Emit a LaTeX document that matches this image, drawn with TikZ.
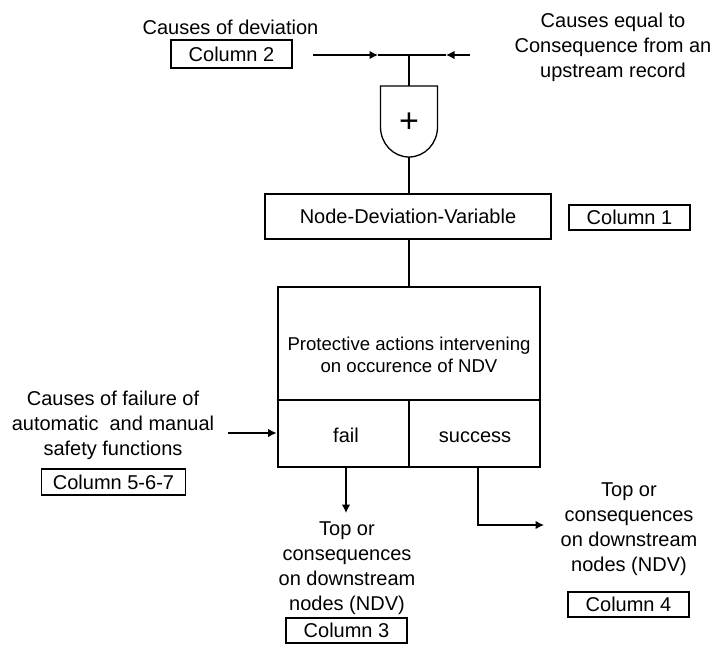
\documentclass[tikz,border=0pt]{standalone}
\usepackage{fontspec}
\setmainfont{Liberation Sans}
\usetikzlibrary{arrows.meta}

\begin{document}
\begin{tikzpicture}[
    x=1pt, y=-1pt,
    font=\fontsize{20}{25}\selectfont,
    every node/.style={inner sep=0pt, align=center},
    link/.style={line width=1.3pt},
    arr/.style={link, -{Latex[length=8.5pt, width=8.5pt]}},
    colbox/.style={draw, link, minimum width=121pt, minimum height=26pt},
    ]
    \useasboundingbox (0,0) rectangle (712,646);

    % inputs of the OR gate
    \node (dev) at (230.5,27) {Causes of deviation};
    \node[colbox, minimum height=28pt] (col2) at (231.5,54) {Column 2};
    \node (up) at (613,47.5) {Causes equal to\\Consequence from an\\upstream record};
    \coordinate (join) at (409,55);
    \coordinate (devin) at (313,55);
    \coordinate (devtip) at (378,55);
    \coordinate (upin) at (470,55);
    \coordinate (uptip) at (446,55);
    \draw[arr] (devin) -- (devtip);
    \draw[link] (devtip) -- (join);
    \draw[arr] (upin) -- (uptip);
    \draw[link] (uptip) -- (join);

    % OR gate
    \draw[link] (380.5,86) -- (380.5,127)
        arc[start angle=180, end angle=0, x radius=28.5, y radius=30]
        -- (437.5,86) -- cycle;
    \node[font=\fontsize{34}{34}\selectfont] (gate) at (409,123) {+};
    \coordinate (gatetop) at (409,86);
    \coordinate (gatebot) at (409,157);
    \draw[link] (join) -- (gatetop);

    \node[draw, link, minimum width=286pt, minimum height=45pt] (ndv) at (408,216.5) {Node-Deviation-Variable};
    \node[colbox, minimum height=25pt] (col1) at (629.5,217.5) {Column 1};
    \draw[link] (gatebot) -- (gatebot |- ndv.north);

    % protective actions
    \node[draw, line width=2.8pt, minimum width=262pt, minimum height=180pt] (pa) at (409,377) {};
    \draw[link] (ndv.south -| gatebot) -- (gatebot |- pa.north);
    \node[font=\fontsize{18.6}{22}\selectfont] (prot) at (409,354.5) {Protective actions intervening\\on occurence of NDV};
    \coordinate (split) at (409,400);
    \draw[link] (split -| pa.west) -- (split -| pa.east);
    \draw[link] (split) -- (split |- pa.south);
    \node[anchor=base] (fail) at (346,442) {fail};
    \node[anchor=base] (succ) at (475,442) {success};

    \node (saf) at (113,425) {Causes of failure of\\automatic~ and manual\\safety functions};
    \node[colbox, minimum width=144pt] (col567) at (113.5,482) {Column 5-6-7};
    \coordinate (safin) at (228,433);
    \draw[arr] (safin) -- (safin -| pa.west);

    % outcomes
    \node (top3) at (347,568) {Top or\\consequences\\on downstream\\nodes (NDV)};
    \node[colbox, minimum height=25pt] (col3) at (346.5,630.5) {Column 3};
    \coordinate (failtip) at (346,513);
    \draw[arr] (failtip |- pa.south) -- (failtip);

    \node (top4) at (629,529) {Top or\\consequences\\on downstream\\nodes (NDV)};
    \node[colbox, minimum height=25pt] (col4) at (628.5,604.5) {Column 4};
    \coordinate (succdrop) at (478,525);
    \coordinate (succtip) at (544,525);
    \draw[arr] (succdrop |- pa.south) -- (succdrop) -- (succtip);
\end{tikzpicture}
\end{document}
